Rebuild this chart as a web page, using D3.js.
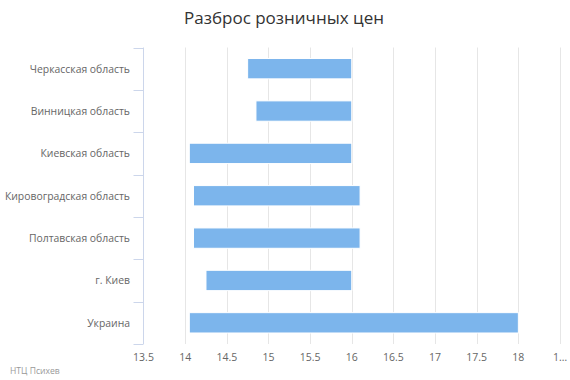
<!DOCTYPE html>
<html><head><meta charset="utf-8">
<script src="https://cdn.jsdelivr.net/npm/d3@7"></script>
<style>body{margin:0;background:#fff}svg{display:block}text{font-family:"Open Sans",sans-serif}</style>
</head><body>
<svg id="c" width="570" height="380"></svg>
<script>
const categories = ["Черкасская область","Винницкая область","Киевская область","Кировоградская область","Полтавская область","г. Киев","Украина"];
const lows  = [14.75, 14.85, 14.05, 14.1, 14.1, 14.25, 14.05];
const highs = [16, 16, 16, 16.1, 16.1, 16, 18];
const tickValues = [13.5,14,14.5,15,15.5,16,16.5,17,17.5,18,18.5];
const tickLabels = ["13.5","14","14.5","15","15.5","16","16.5","17","17.5","18","1…"];
const title = "Разброс розничных цен";
const credits = "НТЦ Психев";

const svg = d3.select("#c");
const L = 143.5, R = 560, T = 47.5, B = 344;
const x = d3.scaleLinear().domain([13.5,18.5]).range([L,R]);
const y = d3.scaleBand().domain(categories).range([T,B]).paddingInner(0).paddingOuter(0);

// gridlines
svg.append("g").selectAll("line").data(tickValues.slice(1)).join("line")
  .attr("x1",d=>Math.round(x(d))+0.5).attr("x2",d=>Math.round(x(d))+0.5)
  .attr("y1",T).attr("y2",B).attr("stroke","#e6e6e6").attr("stroke-width",1);

// bars
const bw = y.bandwidth()*0.6*0.8;
svg.append("g").selectAll("rect").data(categories).join("rect")
  .attr("x",(d,i)=>x(lows[i])).attr("width",(d,i)=>x(highs[i])-x(lows[i]))
  .attr("y",d=>y(d)+y.bandwidth()/2-bw/2).attr("height",bw)
  .attr("fill","#7cb5ec").attr("stroke","#fff").attr("stroke-width",1);

// y axis (categories) line + ticks at boundaries
const ya = svg.append("g");
ya.append("line").attr("x1",L).attr("x2",L).attr("y1",T).attr("y2",B).attr("stroke","#ccd6eb");
const bounds = categories.map(c=>y(c)+y.bandwidth());
ya.selectAll("line.t").data([T].concat(bounds)).join("line").attr("class","t")
  .attr("x1",L-10).attr("x2",L).attr("y1",d=>Math.round(d)+0.5).attr("y2",d=>Math.round(d)+0.5).attr("stroke","#ccd6eb");
ya.selectAll("text").data(categories).join("text")
  .attr("x",130).attr("y",d=>y(d)+y.bandwidth()/2+4)
  .attr("text-anchor","end").attr("font-size","10.4px").attr("fill","#666").text(d=>d);

// x axis labels
svg.append("g").selectAll("text").data(tickValues).join("text")
  .attr("x",d=>x(d)).attr("y",361).attr("text-anchor","middle")
  .attr("font-size","10.5px").attr("fill","#666").text((d,i)=>tickLabels[i]);

svg.append("text").attr("x",284).attr("y",24).attr("text-anchor","middle")
  .attr("font-size","17px").attr("fill","#333").text(title);
svg.append("text").attr("x",10).attr("y",374).attr("font-size","8.6px").attr("fill","#999").text(credits);
</script>
</body></html>
